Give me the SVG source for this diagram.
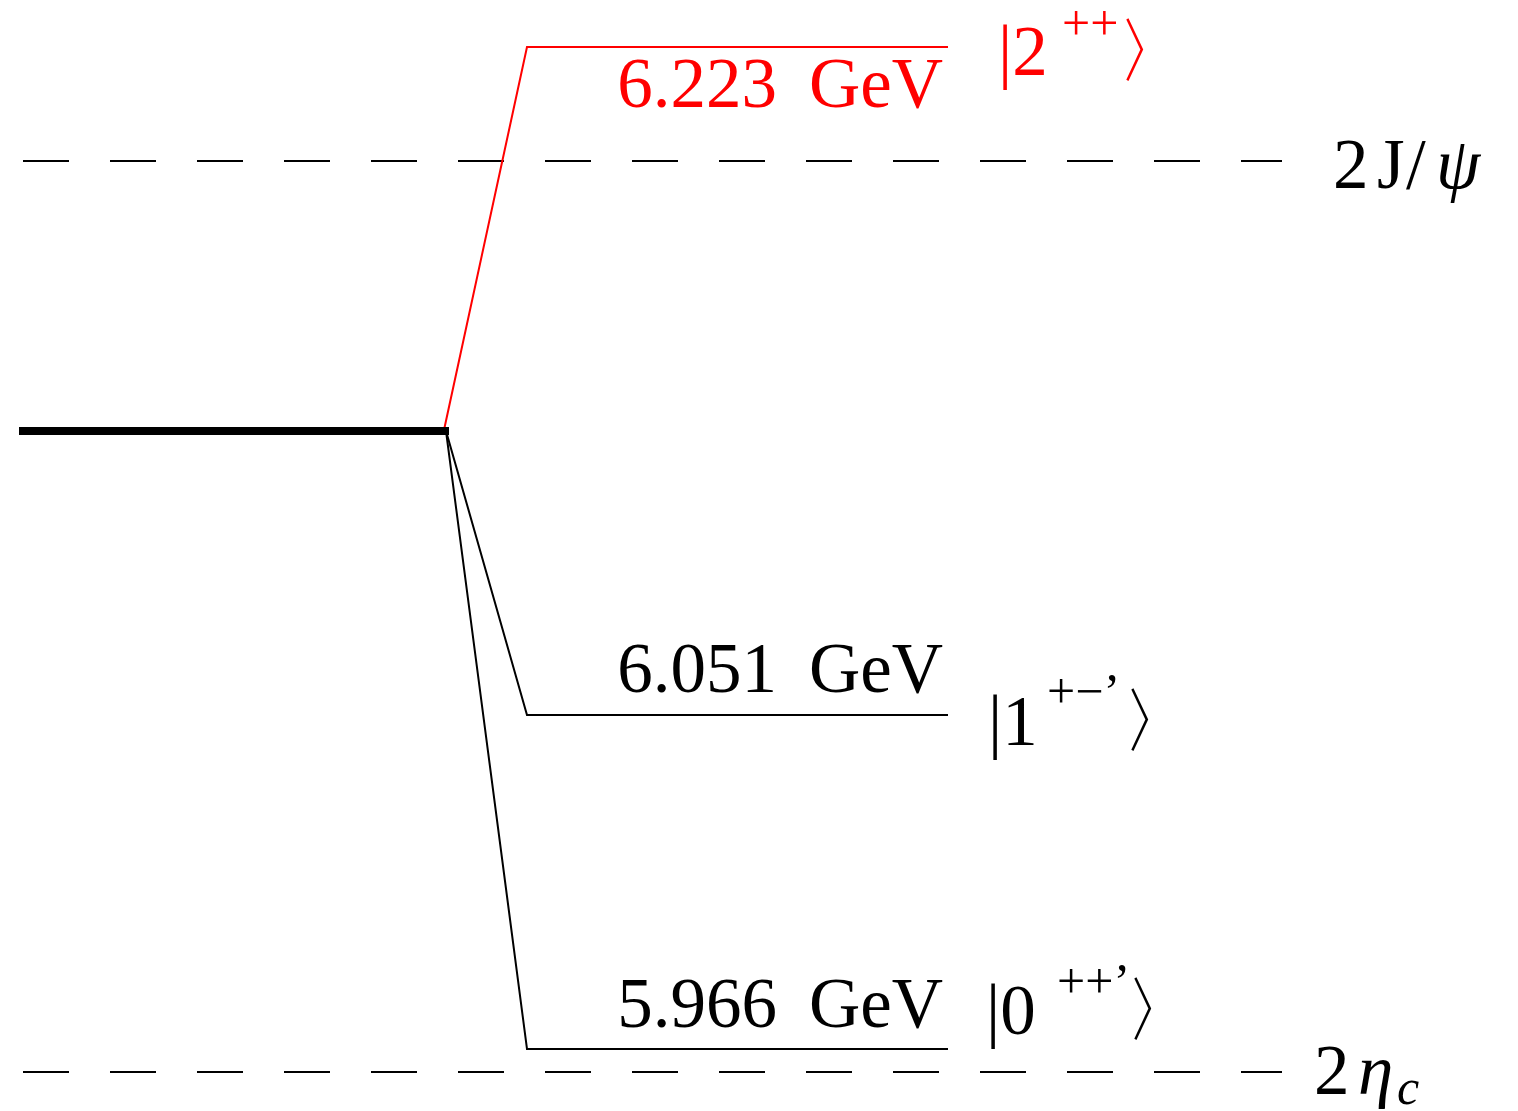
<svg xmlns="http://www.w3.org/2000/svg" width="1518" height="1111" viewBox="0 0 1518 1111">
<style>
.t{font-family:"Liberation Serif","DejaVu Serif",serif;font-size:71px}
.s{font-family:"Liberation Serif","DejaVu Serif",serif;font-size:50px}
.dash{stroke:#000;stroke-width:2.2;stroke-dasharray:46 41;fill:none}
.lvl{stroke:#000;stroke-width:2;fill:none}
.red{stroke:#ff0000;stroke-width:2;fill:none}
</style>
<rect width="1518" height="1111" fill="#fff"/>
<g id="thresholds">
<line class="dash" x1="23" y1="161" x2="1282" y2="161"/>
<line class="dash" x1="23" y1="1072" x2="1282" y2="1072"/>
<text class="t" y="188"><tspan x="1333">2</tspan><tspan x="1377">J</tspan><tspan x="1406">/</tspan><tspan x="1436" font-style="italic">ψ</tspan></text>
<text class="t" y="1094"><tspan x="1314">2</tspan><tspan x="1358" font-style="italic">η</tspan><tspan class="s" x="1397" y="1104" font-style="italic">c</tspan></text>
</g>
<g id="connectors">
<polyline class="red" points="444,430 527,47 948,47"/>
<polyline class="lvl" points="446,431 527,715 948,715"/>
<polyline class="lvl" points="446,431 527,1049 948,1049"/>
</g>
<g id="initial">
<line x1="19" y1="431" x2="449" y2="431" stroke="#000" stroke-width="8"/>
</g>
<g id="state2" fill="#ff0000">
<text class="t" y="107" text-anchor="end"><tspan x="777">6.223</tspan><tspan x="943">GeV</tspan></text>
<text class="t" y="75"><tspan x="998">|2</tspan><tspan class="s" x="1062" y="40">++</tspan><tspan x="1117" y="75">〉</tspan></text>
</g>
<g id="state1">
<text class="t" y="692" text-anchor="end"><tspan x="777">6.051</tspan><tspan x="943">GeV</tspan></text>
<text class="t" y="745"><tspan x="988">|1</tspan><tspan class="s" x="1047" y="708">+−’</tspan><tspan x="1122" y="745">〉</tspan></text>
</g>
<g id="state0">
<text class="t" y="1027" text-anchor="end"><tspan x="777">5.966</tspan><tspan x="943">GeV</tspan></text>
<text class="t" y="1034"><tspan x="986">|0</tspan><tspan class="s" x="1057" y="998">++’</tspan><tspan x="1125" y="1034">〉</tspan></text>
</g>
</svg>
